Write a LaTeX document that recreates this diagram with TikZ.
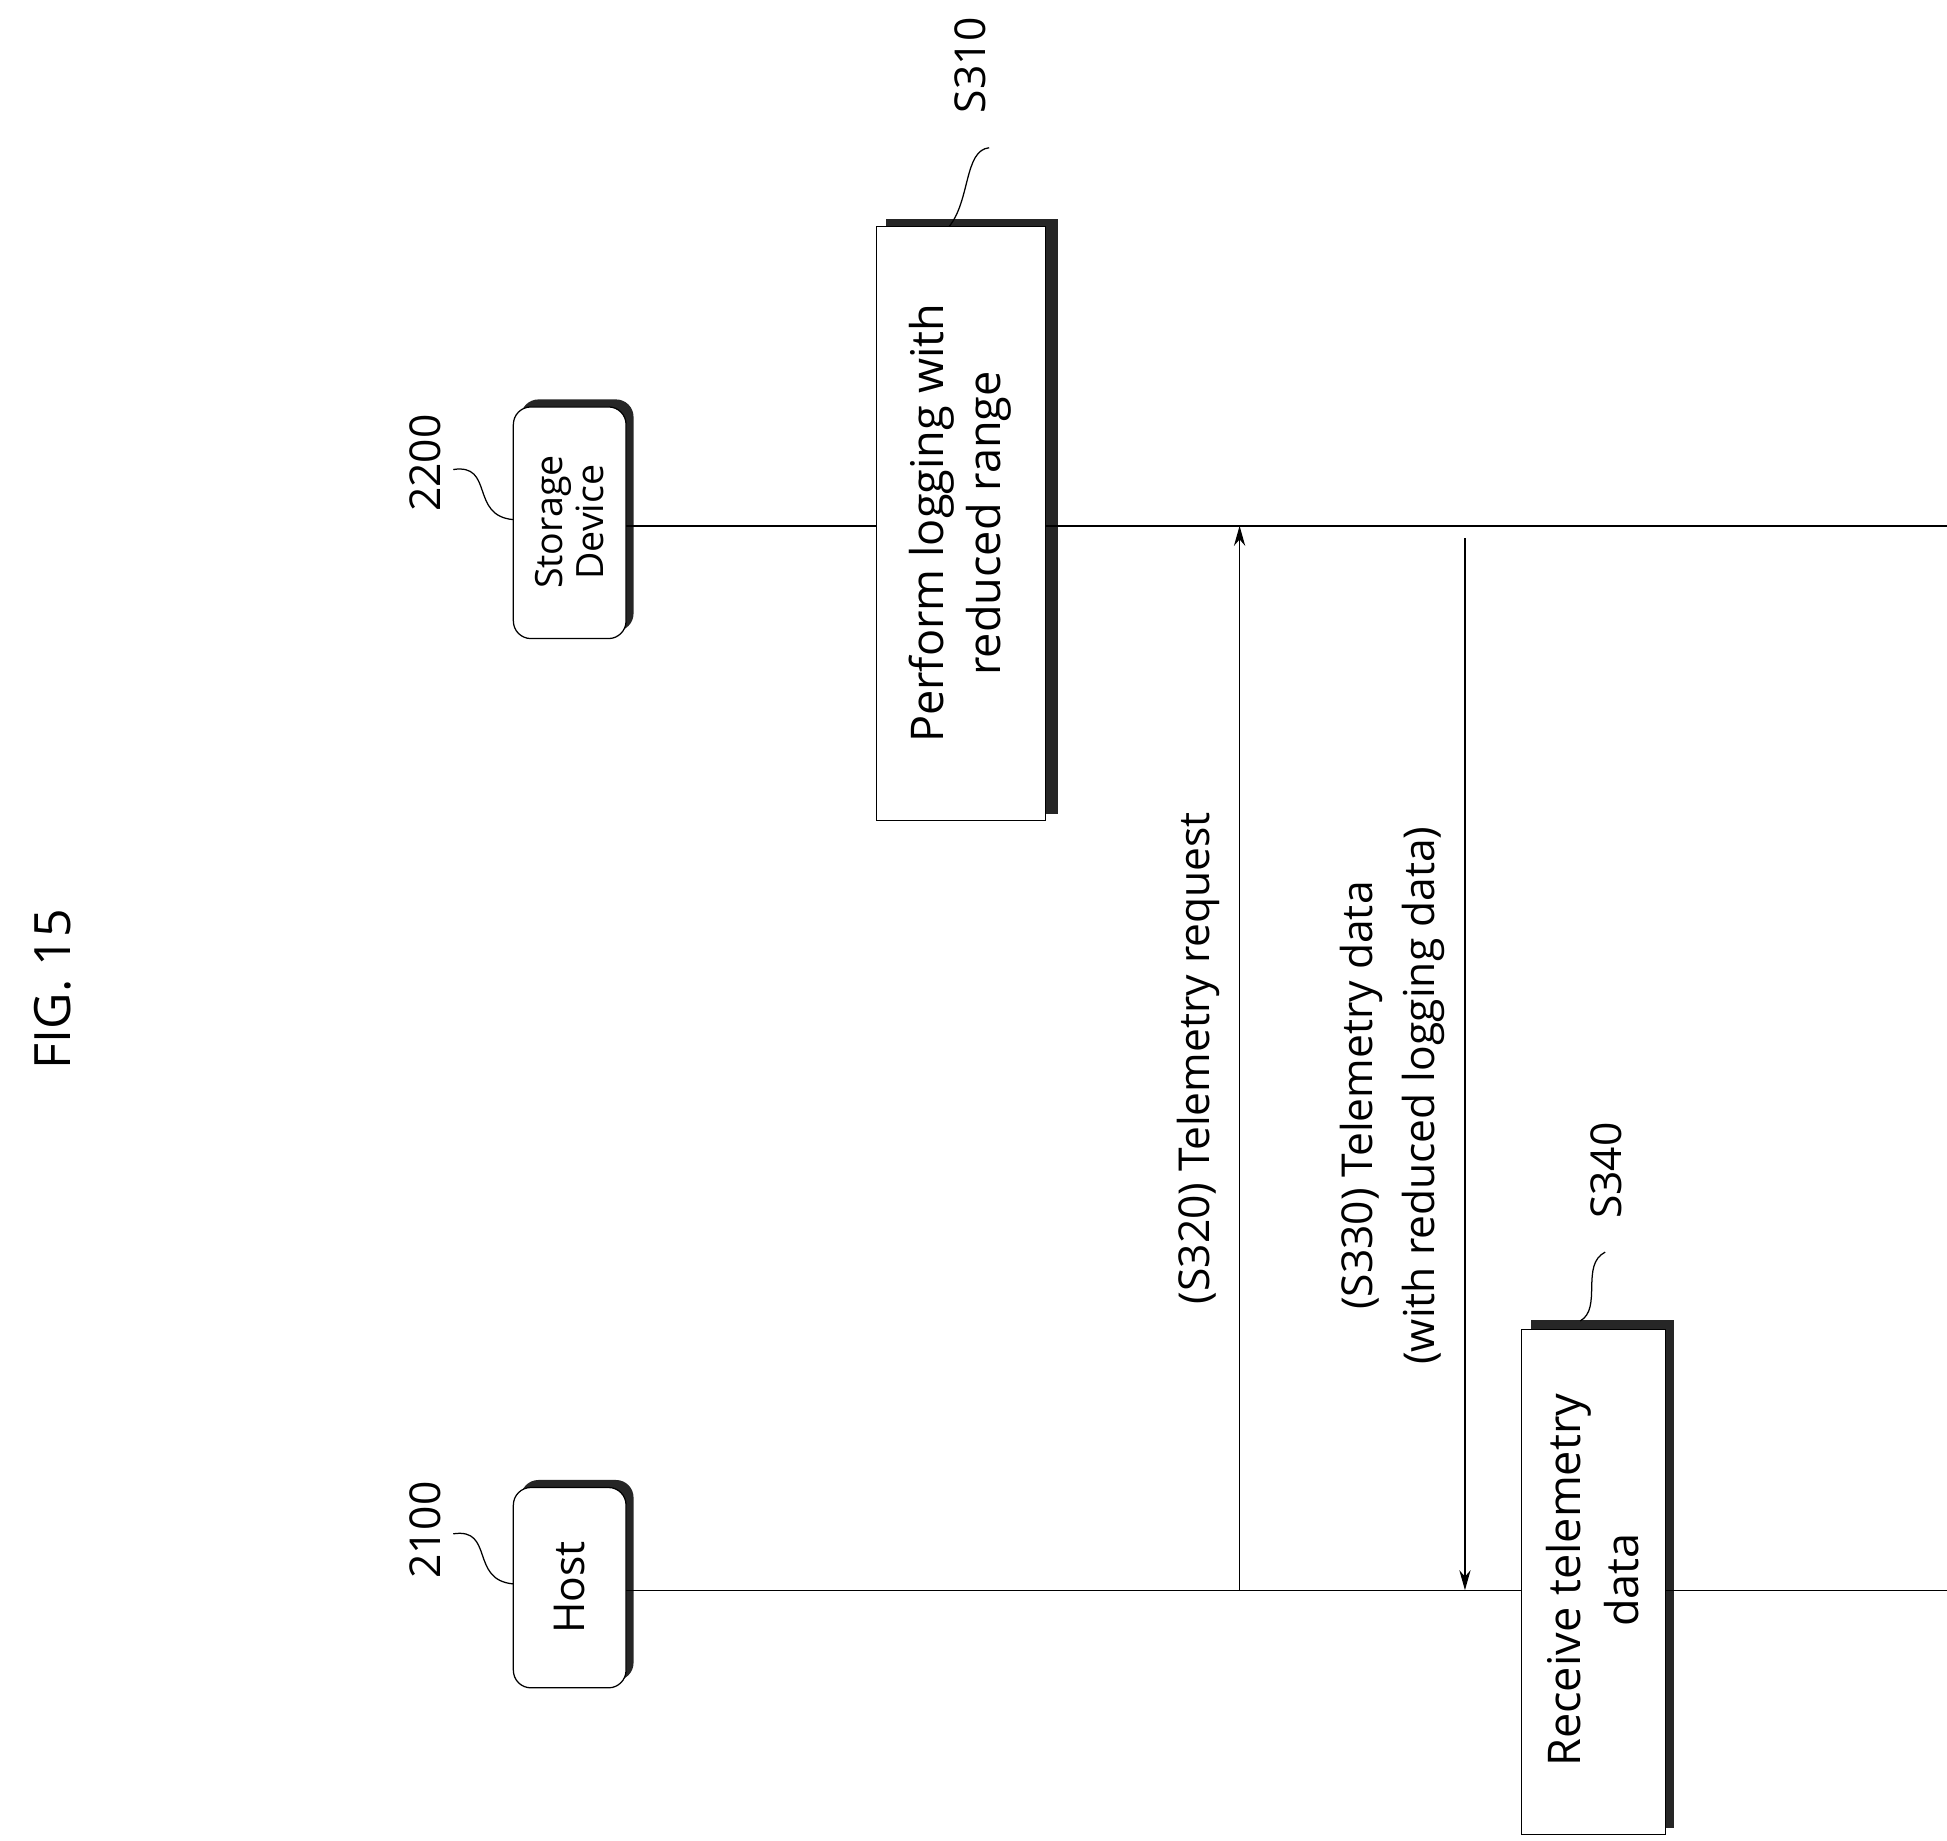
\documentclass[tikz,border=0pt]{standalone}
\usepackage{fontspec}
\setmainfont{Open Sans}
\usetikzlibrary{arrows.meta}
\begin{document}
\begin{tikzpicture}[x=1pt,y=-1pt,
  lbl/.style={font=\fontsize{34}{40}\selectfont,rotate=90},
  ln/.style={line width=1pt},
  arr/.style={line width=1pt,-{Stealth[length=16pt,width=9pt]}}]
\useasboundingbox (0,0) rectangle (1555,1470);
\node[lbl,font=\fontsize{40}{44}\selectfont] (fig) at (42,790) {FIG. 15};
% shadows
\fill[black!85,rounded corners=14pt] (416,1182) rectangle (506,1342);
\fill[black!85,rounded corners=14pt] (416,319) rectangle (506,504);
\fill[black!85] (708,175) rectangle (845,650);
\fill[black!85] (1223,1054) rectangle (1337,1460);
% boxes
\draw[ln,fill=white,rounded corners=14pt] (410,1188) rectangle (500,1348);
\node[lbl,font=\fontsize{34}{40}\selectfont] (host) at (455,1268) {Host};
\draw[ln,fill=white,rounded corners=14pt] (410,325) rectangle (500,510);
\node[lbl,font=\fontsize{30}{33}\selectfont,align=center] (sd) at (455,417) {Storage\\Device};
\draw[ln,fill=white] (700,181) rectangle (835,655);
\node[lbl,align=center,font=\fontsize{36}{46}\selectfont] (s310) at (767,418) {Perform logging with\\reduced range};
\draw[ln,fill=white] (1215,1062) rectangle (1330,1465);
\node[lbl,align=center,font=\fontsize{36}{46}\selectfont] (s340) at (1272,1262) {Receive telemetry\\data};
% lifelines
\coordinate (h0) at (500,1270); \coordinate (h1) at (1555,1270);
\coordinate (d0) at (500,420); \coordinate (d1) at (1555,420);
\draw[ln] (h0) -- (1215,1270); \draw[ln] (1330,1270) -- (h1);
\draw[ln] (d0) -- (700,420); \draw[ln] (835,420) -- (d1);
% arrows
\coordinate (a1) at (990,1270); \coordinate (a2) at (990,420);
\draw[arr] (a1) -- (a2);
\coordinate (b1) at (1170,430); \coordinate (b2) at (1170,1270);
\draw[arr] (b1) -- (b2);
\node[lbl] (l320) at (957,845) {(S320) Telemetry request};
\node[lbl,align=center,font=\fontsize{34}{50}\selectfont] (l330) at (1112,875) {(S330) Telemetry data\\(with reduced logging data)};
% ref labels
\node[lbl] (n2100) at (340,1222) {2100};
\node[lbl] (n2200) at (340,370) {2200};
\node[lbl] (n310) at (775,52) {S310};
\node[lbl] (n340) at (1283,935) {S340};
\draw[ln] (362,1225) .. controls (395,1220) and (375,1262) .. (410,1265);
\draw[ln] (362,375) .. controls (395,370) and (375,412) .. (410,415);
\draw[ln] (790,118) .. controls (770,120) and (775,160) .. (758,181);
\draw[ln] (1282,1000) .. controls (1262,1010) and (1280,1045) .. (1262,1055);
\end{tikzpicture}
\end{document}
